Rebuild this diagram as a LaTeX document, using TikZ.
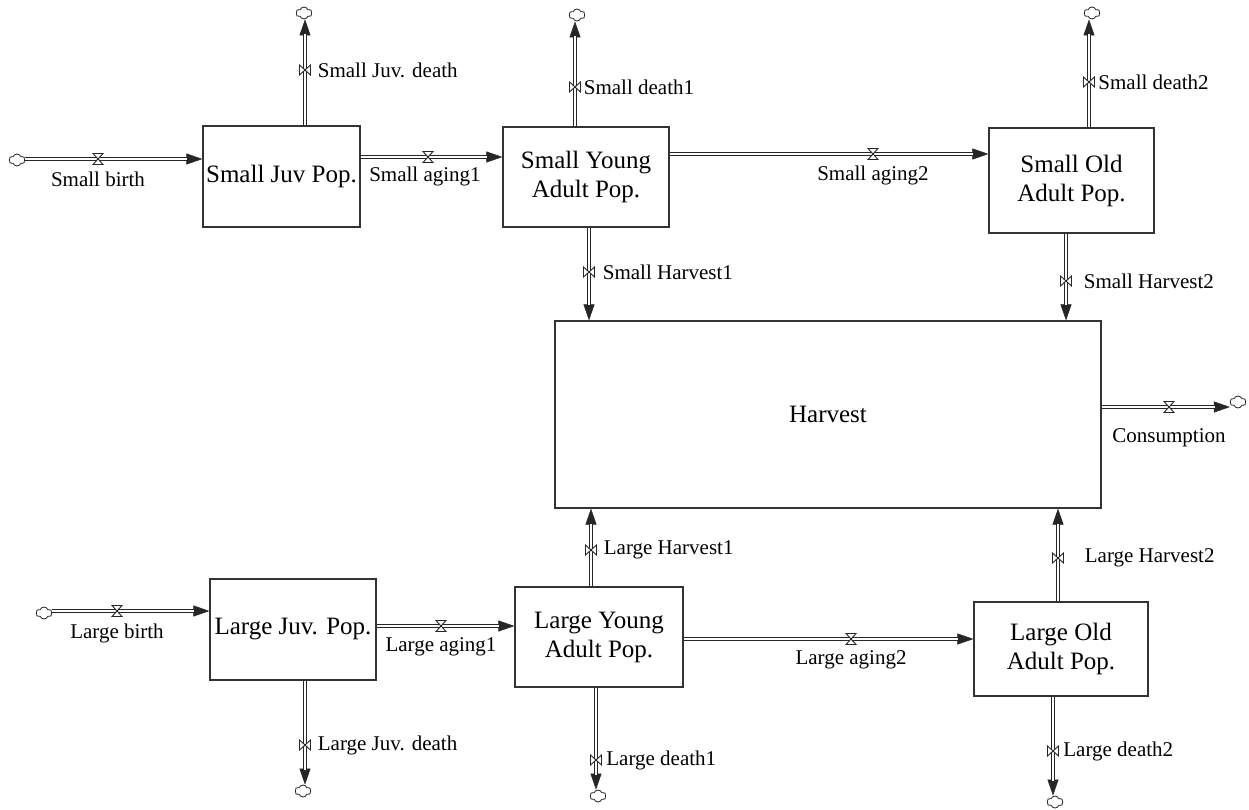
\documentclass[tikz,border=0pt]{standalone}
\usepackage{fontspec}
\setmainfont{Liberation Serif}
\usetikzlibrary{arrows.meta,positioning,shapes.symbols}
\pgfdeclarelayer{pipes}
\pgfsetlayers{pipes,main}
\tikzset{
  stock/.style = {draw=black!80, line width=1.2pt, align=center, inner sep=0pt, font=\fontsize{25}{29}\selectfont},
  % flow label: plain text next to its valve
  flow_L/.style = {inner sep=1pt, font=\fontsize{21}{25}\selectfont},
  % pipe: thick line hollowed by a white one, filled tip
  pipe/.style = {draw=black!85, line width=4pt, -{Triangle[length=16pt, width=11pt, line width=0.5pt]},
    postaction={draw=white, line width=2pt, -, shorten >=15pt}},
  sink/.style = {cloud, cloud puffs=6, cloud puff arc=140, aspect=1.3, draw=black!85, line width=0.8pt, minimum width=16pt, minimum height=12pt, inner sep=0pt},
  % valve on a horizontal pipe (hourglass)
  valve_H/.style = {minimum width=12pt, minimum height=13pt, inner sep=0pt,
    path picture={\filldraw[fill=white, draw=black!85, line width=0.9pt]
      ([shift={(1pt,-1pt)}]path picture bounding box.north west) -- ([shift={(-1pt,-1pt)}]path picture bounding box.north east)
      -- ([shift={(1pt,1pt)}]path picture bounding box.south west) -- ([shift={(-1pt,1pt)}]path picture bounding box.south east) -- cycle;}},
  % valve on a vertical pipe (bowtie)
  valve_V/.style = {minimum width=13pt, minimum height=12pt, inner sep=0pt,
    path picture={\filldraw[fill=white, draw=black!85, line width=0.9pt]
      ([shift={(1pt,-1pt)}]path picture bounding box.north west) -- ([shift={(-1pt,1pt)}]path picture bounding box.south east)
      -- ([shift={(-1pt,-1pt)}]path picture bounding box.north east) -- ([shift={(1pt,1pt)}]path picture bounding box.south west) -- cycle;}}
}

\begin{document}
\begin{tikzpicture}[x=1pt, y=-1pt]
  \useasboundingbox (0,0) rectangle (1249,810);
  % Stocks:
  \node [stock, minimum width=157pt, minimum height=101pt] (sjuv) at (281.5,176.5) {Small Juv Pop.};
  \node [stock, minimum width=166pt, minimum height=100pt] (sya) at (586,177) {Small Young\\Adult Pop.};
  \node [stock, minimum width=165pt, minimum height=105pt] (soa) at (1071.5,180.5) {Small Old\\Adult Pop.};
  \node [stock, minimum width=546pt, minimum height=187pt] (harv) at (828,414.5) {Harvest};
  \node [stock, minimum width=166pt, minimum height=101pt] (ljuv) at (293,629.5) {Large Juv. Pop.};
  \node [stock, minimum width=168pt, minimum height=100pt] (lya) at (599,637) {Large Young\\Adult Pop.};
  \node [stock, minimum width=174pt, minimum height=94pt] (loa) at (1061,649) {Large Old\\Adult Pop.};

  % Sources and sinks:
  \node [sink] (c_sb) at (17,160) {};
  \node [sink] (c_sjd) at (304,13) {};
  \node [sink] (c_sd1) at (577,15) {};
  \node [sink] (c_sd2) at (1092,13) {};
  \node [sink] (c_con) at (1238,402) {};
  \node [sink] (c_lb) at (44,613) {};
  \node [sink] (c_ljd) at (303,791) {};
  \node [sink] (c_ld1) at (598,796) {};
  \node [sink] (c_ld2) at (1055,802) {};

  % Small flows - valves and labels:
  \node [valve_H] (v_sb) at (98,159) {};
  \node [flow_L][below=5pt of v_sb] {Small birth};
  \node [valve_V] (v_sjd) at (305,70) {};
  \node [flow_L][right=5pt of v_sjd] {Small Juv. death};
  \node [valve_H] (v_sa1) at (428,157) {};
  \node [flow_L][below=2.5pt of v_sa1, xshift=-3pt] {Small aging1};
  \node [valve_V] (v_sd1) at (575,87) {};
  \node [flow_L][right=1pt of v_sd1] {Small death1};
  \node [valve_H] (v_sa2) at (873,154) {};
  \node [flow_L][below=4pt of v_sa2] {Small aging2};
  \node [valve_V] (v_sd2) at (1089,82) {};
  \node [flow_L][right=1.5pt of v_sd2] {Small death2};
  \node [valve_V] (v_sh1) at (589,272) {};
  \node [flow_L][right=6pt of v_sh1] {Small Harvest1};
  \node [valve_V] (v_sh2) at (1066,281) {};
  \node [flow_L][right=10pt of v_sh2] {Small Harvest2};
  % Consumption:
  \node [valve_H] (v_con) at (1169,407) {};
  \node [flow_L][below=14pt of v_con] {Consumption};
  % Large flows - valves and labels:
  \node [valve_V] (v_lh1) at (591,550) {};
  \node [flow_L][right=5pt of v_lh1] {Large Harvest1};
  \node [valve_V] (v_lh2) at (1058,558) {};
  \node [flow_L][right=19pt of v_lh2] {Large Harvest2};
  \node [valve_H] (v_lb) at (117,611) {};
  \node [flow_L][below=5pt of v_lb] {Large birth};
  \node [valve_H] (v_la1) at (441,626) {};
  \node [flow_L][below=4pt of v_la1] {Large aging1};
  \node [valve_H] (v_la2) at (851,639) {};
  \node [flow_L][below=4pt of v_la2] {Large aging2};
  \node [valve_V] (v_ljd) at (305,745) {};
  \node [flow_L][right=5pt of v_ljd] {Large Juv. death};
  \node [valve_V] (v_ld1) at (596,760) {};
  \node [flow_L][right=2.5pt of v_ld1] {Large death1};
  \node [valve_V] (v_ld2) at (1053,751) {};
  \node [flow_L][right=2.5pt of v_ld2] {Large death2};

  % Pipes, under the valves:
  \begin{pgfonlayer}{pipes}
    \draw [pipe] (v_sb -| c_sb.east) -- (v_sb -| sjuv.west);
    \draw [pipe] (v_sjd |- sjuv.north) -- (v_sjd |- c_sjd.south);
    \draw [pipe] (v_sa1 -| sjuv.east) -- (v_sa1 -| sya.west);
    \draw [pipe] (v_sd1 |- sya.north) -- (v_sd1 |- c_sd1.south);
    \draw [pipe] (v_sa2 -| sya.east) -- (v_sa2 -| soa.west);
    \draw [pipe] (v_sd2 |- soa.north) -- (v_sd2 |- c_sd2.south);
    \draw [pipe] (v_sh1 |- sya.south) -- (v_sh1 |- harv.north);
    \draw [pipe] (v_sh2 |- soa.south) -- (v_sh2 |- harv.north);
    \draw [pipe] (v_con -| harv.east) -- (v_con -| c_con.west);
    \draw [pipe] (v_lh1 |- lya.north) -- (v_lh1 |- harv.south);
    \draw [pipe] (v_lh2 |- loa.north) -- (v_lh2 |- harv.south);
    \draw [pipe] (v_lb -| c_lb.east) -- (v_lb -| ljuv.west);
    \draw [pipe] (v_la1 -| ljuv.east) -- (v_la1 -| lya.west);
    \draw [pipe] (v_la2 -| lya.east) -- (v_la2 -| loa.west);
    \draw [pipe] (v_ljd |- ljuv.south) -- (v_ljd |- c_ljd.north);
    \draw [pipe] (v_ld1 |- lya.south) -- (v_ld1 |- c_ld1.north);
    \draw [pipe] (v_ld2 |- loa.south) -- (v_ld2 |- c_ld2.north);
  \end{pgfonlayer}
\end{tikzpicture}
\end{document}
